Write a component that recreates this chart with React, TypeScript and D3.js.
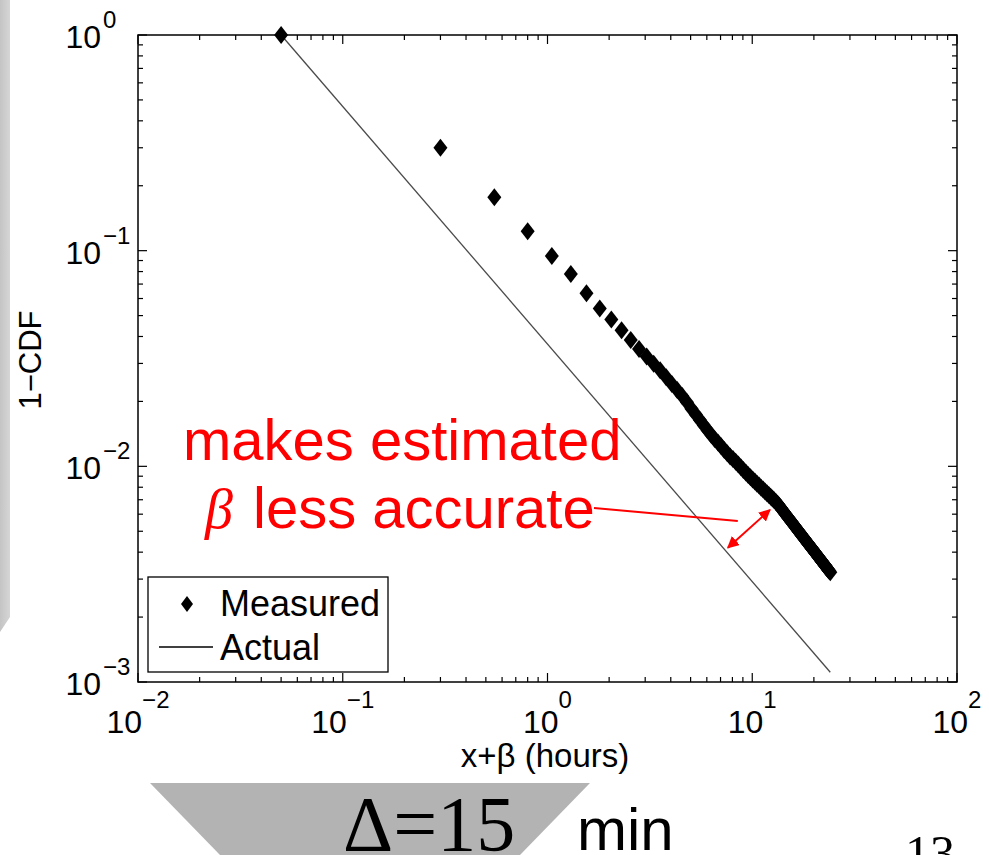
import React, { useEffect, useRef } from 'react';
import * as d3 from 'd3';

// x + beta in hours, sampled every 15 min (beta = 0.05)
const measuredX = [
  0.05, 0.3, 0.55, 0.8, 1.05, 1.3, 1.55, 1.8, 2.05, 2.3, 2.55, 2.8, 3.05, 3.3, 3.55, 3.8,
  4.05, 4.3, 4.55, 4.8, 5.05, 5.3, 5.55, 5.8, 6.05, 6.3, 6.55, 6.8, 7.05, 7.3, 7.55, 7.8,
  8.05, 8.3, 8.55, 8.8, 9.05, 9.3, 9.55, 9.8, 10.05, 10.3, 10.55, 10.8, 11.05, 11.3, 11.55, 11.8,
  12.05, 12.3, 12.55, 12.8, 13.05, 13.3, 13.55, 13.8, 14.05, 14.3, 14.55, 14.8, 15.05, 15.3, 15.55, 15.8,
  16.05, 16.3, 16.55, 16.8, 17.05, 17.3, 17.55, 17.8, 18.05, 18.3, 18.55, 18.8, 19.05, 19.3, 19.55, 19.8,
  20.05, 20.3, 20.55, 20.8, 21.05, 21.3, 21.55, 21.8, 22.05, 22.3, 22.55, 22.8, 23.05, 23.3, 23.55, 23.8,
  24.05
];
const measuredY = [
  1, 0.30, 0.177, 0.123, 0.0945, 0.078, 0.0635, 0.054, 0.048, 0.0427, 0.0385, 0.0350, 0.0323, 0.0299, 0.0279, 0.0259,
  0.0241, 0.0226, 0.0212, 0.0198, 0.0185, 0.0174, 0.0164, 0.0155, 0.0147, 0.0140, 0.0134, 0.0129, 0.0124, 0.0119, 0.0115, 0.0111,
  0.0108, 0.0105, 0.0102, 0.00989, 0.00962, 0.00936, 0.00912, 0.00889, 0.00869, 0.00850, 0.00831, 0.00814, 0.00796, 0.00780, 0.00765, 0.00750,
  0.00736, 0.00722, 0.00709, 0.00696, 0.00684, 0.00671, 0.00656, 0.00641, 0.00626, 0.00613, 0.00600, 0.00587, 0.00575, 0.00564, 0.00552, 0.00541,
  0.00531, 0.00521, 0.00511, 0.00502, 0.00493, 0.00484, 0.00475, 0.00467, 0.00459, 0.00452, 0.00444, 0.00437, 0.00430, 0.00423, 0.00416, 0.00410,
  0.00404, 0.00398, 0.00392, 0.00386, 0.00380, 0.00375, 0.00369, 0.00364, 0.00359, 0.00354, 0.00349, 0.00345, 0.00340, 0.00335, 0.00331, 0.00327,
  0.00323
];
const actualX = [0.05, 24.05];
const actualY = [1, 0.00111];

const xTickExps = [-2, -1, 0, 1, 2];
const yTickExps = [0, -1, -2, -3];

// gap annotation (data coords)
const arrowFrom = [7.6, 0.00419];
const arrowTo = [12.2, 0.00628];
const leaderTo = [8.5, 0.00558];

const SANS = '"Liberation Sans", Arial, Helvetica, sans-serif';
const SERIF = '"Liberation Serif", "DejaVu Serif", serif';
const sup = (e) => (e < 0 ? '\u2212' + Math.abs(e) : String(e));

const App = () => {
  const chartRef = useRef();

  useEffect(() => {
    const width = 989;
    const height = 855;
    const left = 138, right = 957, top = 35, bottom = 682;

    d3.select(chartRef.current).selectAll('svg').remove();

    const svg = d3.select(chartRef.current)
      .append('svg')
      .attr('width', width)
      .attr('height', height)
      .style('position', 'absolute')
      .style('left', 0)
      .style('top', 0)
      .style('background', '#fff');

    const defs = svg.append('defs');
    const grad = defs.append('linearGradient').attr('id', 'strip').attr('x1', 0).attr('x2', 1);
    grad.append('stop').attr('offset', 0).attr('stop-color', '#c4c4c4');
    grad.append('stop').attr('offset', 1).attr('stop-color', '#d6d6d6');
    defs.append('marker')
      .attr('id', 'redHead')
      .attr('viewBox', '0 0 10 10')
      .attr('refX', 9).attr('refY', 5)
      .attr('markerWidth', 6).attr('markerHeight', 6)
      .attr('markerUnits', 'strokeWidth')
      .attr('orient', 'auto-start-reverse')
      .append('path')
      .attr('d', 'M0,0L10,5L0,10Z')
      .attr('fill', '#ff0000');

    // slide decoration
    svg.append('path')
      .attr('d', 'M0,0L10,0L10,617L0,632Z')
      .attr('fill', 'url(#strip)');
    svg.append('path')
      .attr('d', 'M150,783L590,783L520,855L220,855Z')
      .attr('fill', '#b3b3b3');

    const x = d3.scaleLog().domain([0.01, 100]).range([left, right]);
    const y = d3.scaleLog().domain([0.001, 1]).range([bottom, top]);

    const g = svg.append('g');

    // ticks on all four sides
    const tickG = g.append('g').attr('stroke', '#000').attr('stroke-width', 1.2);
    x.ticks().forEach(t => {
      const major = Math.abs(Math.log10(t) - Math.round(Math.log10(t))) < 1e-9;
      const len = major ? 9 : 5;
      const px = x(t);
      tickG.append('line').attr('x1', px).attr('x2', px).attr('y1', bottom).attr('y2', bottom - len);
      tickG.append('line').attr('x1', px).attr('x2', px).attr('y1', top).attr('y2', top + len);
    });
    y.ticks().forEach(t => {
      const major = Math.abs(Math.log10(t) - Math.round(Math.log10(t))) < 1e-9;
      const len = major ? 9 : 5;
      const py = y(t);
      tickG.append('line').attr('y1', py).attr('y2', py).attr('x1', left).attr('x2', left + len);
      tickG.append('line').attr('y1', py).attr('y2', py).attr('x1', right).attr('x2', right - len);
    });

    g.append('rect')
      .attr('x', left).attr('y', top)
      .attr('width', right - left).attr('height', bottom - top)
      .attr('fill', 'none')
      .attr('stroke', '#000')
      .attr('stroke-width', 1.5);

    // tick labels
    xTickExps.forEach(e => {
      const t = g.append('text')
        .attr('x', x(Math.pow(10, e)))
        .attr('y', 733)
        .attr('text-anchor', 'middle')
        .attr('font-family', SANS)
        .attr('font-size', 32)
        .text('10');
      t.append('tspan').attr('dy', -25).attr('font-size', 24).text(sup(e));
    });
    yTickExps.forEach(e => {
      const py = y(Math.pow(10, e));
      g.append('text')
        .attr('x', 101).attr('y', py + 13)
        .attr('text-anchor', 'end')
        .attr('font-family', SANS)
        .attr('font-size', 32)
        .text('10');
      g.append('text')
        .attr('x', 103).attr('y', py - 7)
        .attr('font-family', SANS)
        .attr('font-size', 24)
        .text(sup(e));
    });

    // axis titles
    g.append('text')
      .attr('x', 545).attr('y', 767)
      .attr('text-anchor', 'middle')
      .attr('font-family', SANS)
      .attr('font-size', 33)
      .text('x+\u03b2 (hours)');
    g.append('text')
      .attr('transform', 'translate(41,360) rotate(-90)')
      .attr('text-anchor', 'middle')
      .attr('font-family', SANS)
      .attr('font-size', 31)
      .text('1\u2212CDF');

    // actual line
    const actual = actualX.map((v, i) => [v, actualY[i]]);
    g.append('path')
      .datum(actual)
      .attr('d', d3.line().x(d => x(d[0])).y(d => y(d[1])))
      .attr('fill', 'none')
      .attr('stroke', '#4a4a4a')
      .attr('stroke-width', 1.3);

    // measured diamonds
    const diamond = 'M0,-9L7,0L0,9L-7,0Z';
    const measured = measuredX.map((v, i) => [v, measuredY[i]]);
    g.append('g')
      .selectAll('path')
      .data(measured)
      .enter()
      .append('path')
      .attr('d', diamond)
      .attr('transform', d => `translate(${x(d[0])},${y(d[1])})`)
      .attr('fill', '#000');

    // legend
    const lg = g.append('g');
    lg.append('rect')
      .attr('x', 148).attr('y', 577)
      .attr('width', 240).attr('height', 95)
      .attr('fill', '#fff')
      .attr('stroke', '#000')
      .attr('stroke-width', 1.3);
    lg.append('path')
      .attr('d', 'M0,-8L6,0L0,8L-6,0Z')
      .attr('transform', 'translate(187,604)')
      .attr('fill', '#000');
    lg.append('text')
      .attr('x', 220).attr('y', 616)
      .attr('font-family', SANS)
      .attr('font-size', 36)
      .text('Measured');
    lg.append('line')
      .attr('x1', 159).attr('x2', 213)
      .attr('y1', 647).attr('y2', 647)
      .attr('stroke', '#000')
      .attr('stroke-width', 1.3);
    lg.append('text')
      .attr('x', 220).attr('y', 660)
      .attr('font-family', SANS)
      .attr('font-size', 36)
      .text('Actual');

    // red annotation
    const red = '#ff0000';
    g.append('text')
      .attr('x', 183).attr('y', 460)
      .attr('font-family', SANS)
      .attr('font-size', 58)
      .attr('fill', red)
      .text('makes estimated');
    g.append('text')
      .attr('x', 205).attr('y', 528)
      .attr('font-family', SERIF)
      .attr('font-style', 'italic')
      .attr('font-size', 56)
      .attr('fill', red)
      .text('\u03b2');
    g.append('text')
      .attr('x', 253).attr('y', 528)
      .attr('font-family', SANS)
      .attr('font-size', 58)
      .attr('fill', red)
      .text('less accurate');
    g.append('line')
      .attr('x1', 594).attr('y1', 508)
      .attr('x2', x(leaderTo[0])).attr('y2', y(leaderTo[1]))
      .attr('stroke', red)
      .attr('stroke-width', 2);
    g.append('line')
      .attr('x1', x(arrowFrom[0])).attr('y1', y(arrowFrom[1]))
      .attr('x2', x(arrowTo[0])).attr('y2', y(arrowTo[1]))
      .attr('stroke', red)
      .attr('stroke-width', 2)
      .attr('marker-start', 'url(#redHead)')
      .attr('marker-end', 'url(#redHead)');

    // slide footer
    svg.append('text')
      .attr('x', 343).attr('y', 850)
      .attr('font-family', SERIF)
      .attr('font-size', 78)
      .text('\u0394=15');
    svg.append('text')
      .attr('x', 577).attr('y', 850)
      .attr('font-family', SANS)
      .attr('font-size', 60)
      .text('min');
    svg.append('text')
      .attr('x', 905).attr('y', 870)
      .attr('font-family', SERIF)
      .attr('font-size', 50)
      .text('13');
  }, []);

  return (
    <div ref={chartRef}></div>
  );
};

export default App;
